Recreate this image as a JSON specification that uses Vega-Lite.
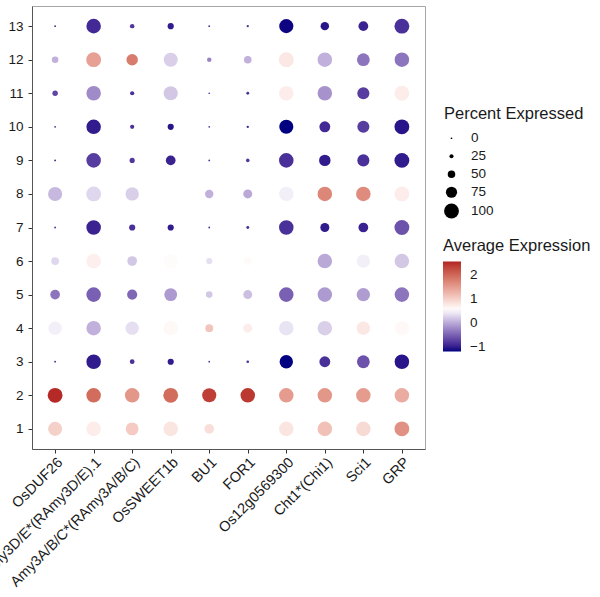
{
  "$schema": "https://vega.github.io/schema/vega-lite/v6.json",
  "autosize": "none",
  "width": 393,
  "height": 443,
  "padding": {"left": 32, "top": 6, "right": 175, "bottom": 148},
  "background": "white",
  "config": {
    "font": "Liberation Sans",
    "view": {"stroke": "#a6a6a6", "strokeWidth": 1}
  },
  "datasets": {
    "dots": [
      {"gene":"OsDUF26","cluster":13,"pct":2,"avg":-0.95},
      {"gene":"Amy3D/E*(RAmy3D/E).1","cluster":13,"pct":98,"avg":-0.9},
      {"gene":"Amy3A/B/C*(RAmy3A/B/C)","cluster":13,"pct":28,"avg":-0.8},
      {"gene":"OsSWEET1b","cluster":13,"pct":40,"avg":-1.0},
      {"gene":"BU1","cluster":13,"pct":1,"avg":-0.9},
      {"gene":"FOR1","cluster":13,"pct":10,"avg":-0.85},
      {"gene":"Os12g0569300","cluster":13,"pct":95,"avg":-1.15},
      {"gene":"Cht1*(Chi1)","cluster":13,"pct":56,"avg":-1.05},
      {"gene":"Sci1","cluster":13,"pct":65,"avg":-0.95},
      {"gene":"GRP","cluster":13,"pct":100,"avg":-0.85},

      {"gene":"OsDUF26","cluster":12,"pct":43,"avg":0.05},
      {"gene":"Amy3D/E*(RAmy3D/E).1","cluster":12,"pct":100,"avg":1.45},
      {"gene":"Amy3A/B/C*(RAmy3A/B/C)","cluster":12,"pct":77,"avg":1.8},
      {"gene":"OsSWEET1b","cluster":12,"pct":95,"avg":0.25},
      {"gene":"BU1","cluster":12,"pct":28,"avg":-0.25},
      {"gene":"FOR1","cluster":12,"pct":50,"avg":0.05},
      {"gene":"Os12g0569300","cluster":12,"pct":100,"avg":0.78},
      {"gene":"Cht1*(Chi1)","cluster":12,"pct":98,"avg":0.05},
      {"gene":"Sci1","cluster":12,"pct":86,"avg":-0.35},
      {"gene":"GRP","cluster":12,"pct":98,"avg":-0.35},

      {"gene":"OsDUF26","cluster":11,"pct":35,"avg":-0.7},
      {"gene":"Amy3D/E*(RAmy3D/E).1","cluster":11,"pct":98,"avg":-0.2},
      {"gene":"Amy3A/B/C*(RAmy3A/B/C)","cluster":11,"pct":26,"avg":-0.85},
      {"gene":"OsSWEET1b","cluster":11,"pct":95,"avg":0.2},
      {"gene":"BU1","cluster":11,"pct":0,"avg":-0.7},
      {"gene":"FOR1","cluster":11,"pct":16,"avg":-0.8},
      {"gene":"Os12g0569300","cluster":11,"pct":98,"avg":0.72},
      {"gene":"Cht1*(Chi1)","cluster":11,"pct":98,"avg":-0.15},
      {"gene":"Sci1","cluster":11,"pct":81,"avg":-0.75},
      {"gene":"GRP","cluster":11,"pct":100,"avg":0.72},

      {"gene":"OsDUF26","cluster":10,"pct":2,"avg":-0.9},
      {"gene":"Amy3D/E*(RAmy3D/E).1","cluster":10,"pct":98,"avg":-1.0},
      {"gene":"Amy3A/B/C*(RAmy3A/B/C)","cluster":10,"pct":26,"avg":-0.85},
      {"gene":"OsSWEET1b","cluster":10,"pct":40,"avg":-1.05},
      {"gene":"BU1","cluster":10,"pct":1,"avg":-0.8},
      {"gene":"FOR1","cluster":10,"pct":11,"avg":-0.9},
      {"gene":"Os12g0569300","cluster":10,"pct":95,"avg":-1.18},
      {"gene":"Cht1*(Chi1)","cluster":10,"pct":73,"avg":-0.9},
      {"gene":"Sci1","cluster":10,"pct":81,"avg":-0.75},
      {"gene":"GRP","cluster":10,"pct":100,"avg":-1.05},

      {"gene":"OsDUF26","cluster":9,"pct":6,"avg":-0.85},
      {"gene":"Amy3D/E*(RAmy3D/E).1","cluster":9,"pct":98,"avg":-0.75},
      {"gene":"Amy3A/B/C*(RAmy3A/B/C)","cluster":9,"pct":33,"avg":-0.8},
      {"gene":"OsSWEET1b","cluster":9,"pct":65,"avg":-0.95},
      {"gene":"BU1","cluster":9,"pct":2,"avg":-0.85},
      {"gene":"FOR1","cluster":9,"pct":21,"avg":-0.8},
      {"gene":"Os12g0569300","cluster":9,"pct":98,"avg":-0.85},
      {"gene":"Cht1*(Chi1)","cluster":9,"pct":77,"avg":-1.0},
      {"gene":"Sci1","cluster":9,"pct":81,"avg":-0.85},
      {"gene":"GRP","cluster":9,"pct":100,"avg":-1.0},

      {"gene":"OsDUF26","cluster":8,"pct":95,"avg":0.1},
      {"gene":"Amy3D/E*(RAmy3D/E).1","cluster":8,"pct":100,"avg":0.3},
      {"gene":"Amy3A/B/C*(RAmy3A/B/C)","cluster":8,"pct":90,"avg":0.25},
      {"gene":"OsSWEET1b","cluster":8,"pct":95,"avg":0.55},
      {"gene":"BU1","cluster":8,"pct":56,"avg":0.05},
      {"gene":"FOR1","cluster":8,"pct":60,"avg":0.0},
      {"gene":"Os12g0569300","cluster":8,"pct":98,"avg":0.45},
      {"gene":"Cht1*(Chi1)","cluster":8,"pct":98,"avg":1.7},
      {"gene":"Sci1","cluster":8,"pct":98,"avg":1.65},
      {"gene":"GRP","cluster":8,"pct":100,"avg":0.72},

      {"gene":"OsDUF26","cluster":7,"pct":3,"avg":-0.85},
      {"gene":"Amy3D/E*(RAmy3D/E).1","cluster":7,"pct":98,"avg":-0.95},
      {"gene":"Amy3A/B/C*(RAmy3A/B/C)","cluster":7,"pct":40,"avg":-0.85},
      {"gene":"OsSWEET1b","cluster":7,"pct":40,"avg":-1.0},
      {"gene":"BU1","cluster":7,"pct":2,"avg":-0.85},
      {"gene":"FOR1","cluster":7,"pct":16,"avg":-0.85},
      {"gene":"Os12g0569300","cluster":7,"pct":98,"avg":-0.85},
      {"gene":"Cht1*(Chi1)","cluster":7,"pct":60,"avg":-1.0},
      {"gene":"Sci1","cluster":7,"pct":65,"avg":-0.95},
      {"gene":"GRP","cluster":7,"pct":100,"avg":-0.6},

      {"gene":"OsDUF26","cluster":6,"pct":52,"avg":0.3},
      {"gene":"Amy3D/E*(RAmy3D/E).1","cluster":6,"pct":98,"avg":0.7},
      {"gene":"Amy3A/B/C*(RAmy3A/B/C)","cluster":6,"pct":65,"avg":0.2},
      {"gene":"OsSWEET1b","cluster":6,"pct":98,"avg":0.58},
      {"gene":"BU1","cluster":6,"pct":40,"avg":0.35},
      {"gene":"FOR1","cluster":6,"pct":52,"avg":0.6},
      {"gene":"Os12g0569300","cluster":6,"pct":95,"avg":0.55},
      {"gene":"Cht1*(Chi1)","cluster":6,"pct":98,"avg":0.0},
      {"gene":"Sci1","cluster":6,"pct":90,"avg":0.45},
      {"gene":"GRP","cluster":6,"pct":98,"avg":0.2},

      {"gene":"OsDUF26","cluster":5,"pct":65,"avg":-0.35},
      {"gene":"Amy3D/E*(RAmy3D/E).1","cluster":5,"pct":98,"avg":-0.5},
      {"gene":"Amy3A/B/C*(RAmy3A/B/C)","cluster":5,"pct":68,"avg":-0.45},
      {"gene":"OsSWEET1b","cluster":5,"pct":86,"avg":-0.1},
      {"gene":"BU1","cluster":5,"pct":43,"avg":0.2},
      {"gene":"FOR1","cluster":5,"pct":60,"avg":0.15},
      {"gene":"Os12g0569300","cluster":5,"pct":98,"avg":-0.5},
      {"gene":"Cht1*(Chi1)","cluster":5,"pct":98,"avg":-0.1},
      {"gene":"Sci1","cluster":5,"pct":90,"avg":-0.08},
      {"gene":"GRP","cluster":5,"pct":98,"avg":-0.35},

      {"gene":"OsDUF26","cluster":4,"pct":90,"avg":0.45},
      {"gene":"Amy3D/E*(RAmy3D/E).1","cluster":4,"pct":98,"avg":0.05},
      {"gene":"Amy3A/B/C*(RAmy3A/B/C)","cluster":4,"pct":90,"avg":0.35},
      {"gene":"OsSWEET1b","cluster":4,"pct":98,"avg":0.62},
      {"gene":"BU1","cluster":4,"pct":52,"avg":1.1},
      {"gene":"FOR1","cluster":4,"pct":60,"avg":0.72},
      {"gene":"Os12g0569300","cluster":4,"pct":98,"avg":0.38},
      {"gene":"Cht1*(Chi1)","cluster":4,"pct":98,"avg":0.25},
      {"gene":"Sci1","cluster":4,"pct":90,"avg":0.78},
      {"gene":"GRP","cluster":4,"pct":98,"avg":0.62},

      {"gene":"OsDUF26","cluster":3,"pct":2,"avg":-0.95},
      {"gene":"Amy3D/E*(RAmy3D/E).1","cluster":3,"pct":98,"avg":-1.0},
      {"gene":"Amy3A/B/C*(RAmy3A/B/C)","cluster":3,"pct":30,"avg":-0.85},
      {"gene":"OsSWEET1b","cluster":3,"pct":40,"avg":-1.0},
      {"gene":"BU1","cluster":3,"pct":1,"avg":-0.85},
      {"gene":"FOR1","cluster":3,"pct":14,"avg":-0.85},
      {"gene":"Os12g0569300","cluster":3,"pct":90,"avg":-1.18},
      {"gene":"Cht1*(Chi1)","cluster":3,"pct":73,"avg":-0.85},
      {"gene":"Sci1","cluster":3,"pct":86,"avg":-0.6},
      {"gene":"GRP","cluster":3,"pct":98,"avg":-1.05},

      {"gene":"OsDUF26","cluster":2,"pct":100,"avg":2.5},
      {"gene":"Amy3D/E*(RAmy3D/E).1","cluster":2,"pct":98,"avg":1.95},
      {"gene":"Amy3A/B/C*(RAmy3A/B/C)","cluster":2,"pct":98,"avg":1.55},
      {"gene":"OsSWEET1b","cluster":2,"pct":100,"avg":1.95},
      {"gene":"BU1","cluster":2,"pct":95,"avg":2.35},
      {"gene":"FOR1","cluster":2,"pct":98,"avg":2.4},
      {"gene":"Os12g0569300","cluster":2,"pct":98,"avg":1.5},
      {"gene":"Cht1*(Chi1)","cluster":2,"pct":98,"avg":1.55},
      {"gene":"Sci1","cluster":2,"pct":98,"avg":1.5},
      {"gene":"GRP","cluster":2,"pct":98,"avg":1.35},

      {"gene":"OsDUF26","cluster":1,"pct":95,"avg":1.0},
      {"gene":"Amy3D/E*(RAmy3D/E).1","cluster":1,"pct":98,"avg":0.72},
      {"gene":"Amy3A/B/C*(RAmy3A/B/C)","cluster":1,"pct":86,"avg":1.05},
      {"gene":"OsSWEET1b","cluster":1,"pct":98,"avg":0.8},
      {"gene":"BU1","cluster":1,"pct":65,"avg":0.85},
      {"gene":"FOR1","cluster":1,"pct":80,"avg":0.55},
      {"gene":"Os12g0569300","cluster":1,"pct":98,"avg":0.8},
      {"gene":"Cht1*(Chi1)","cluster":1,"pct":98,"avg":1.15},
      {"gene":"Sci1","cluster":1,"pct":98,"avg":0.9},
      {"gene":"GRP","cluster":1,"pct":100,"avg":1.6}
    ]
  },
  "data": {"name": "dots"},
  "mark": {"type": "point", "shape": "circle", "filled": true, "opacity": 1, "strokeWidth": 0},
  "encoding": {
    "x": {
      "field": "gene", "type": "nominal",
      "sort": ["OsDUF26","Amy3D/E*(RAmy3D/E).1","Amy3A/B/C*(RAmy3A/B/C)","OsSWEET1b","BU1","FOR1","Os12g0569300","Cht1*(Chi1)","Sci1","GRP"],
      "scale": {"type": "point", "padding": 0.6},
      "axis": {
        "title": null, "grid": false,
        "labelAngle": -45, "labelAlign": "right", "labelBaseline": "top",
        "labelFontSize": 14.5, "labelColor": "#1a1a1a", "labelPadding": 2,
        "tickSize": 4, "tickColor": "#333333", "domainColor": "#555555"
      }
    },
    "y": {
      "field": "cluster", "type": "ordinal",
      "sort": [13,12,11,10,9,8,7,6,5,4,3,2,1],
      "scale": {"type": "point", "padding": 0.6},
      "axis": {
        "title": null, "grid": false,
        "labelFontSize": 13.5, "labelColor": "#1a1a1a", "labelPadding": 5,
        "tickSize": 4, "tickColor": "#333333", "domainColor": "#555555"
      }
    },
    "size": {
      "field": "pct", "type": "quantitative",
      "scale": {"type": "pow", "exponent": 2, "domain": [0, 100], "range": [3, 220]},
      "legend": {
        "title": "Percent Expressed", "orient": "none", "legendX": 412, "legendY": 100,
        "values": [0, 25, 50, 75, 100], "gridAlign": "all",
        "symbolFillColor": "black", "symbolStrokeWidth": 0, "symbolType": "circle",
        "titleFontSize": 16.5, "titleFontWeight": "normal", "titleColor": "#1a1a1a", "titlePadding": 9,
        "labelFontSize": 13.5, "labelColor": "#1a1a1a", "labelOffset": 12, "rowPadding": 2,
        "encode": {"symbols": {"update": {"fill": {"value": "black"}, "opacity": {"value": 1}}}}
      }
    },
    "color": {
      "field": "avg", "type": "quantitative",
      "scale": {"domain": [-1.18, 0.55, 2.55], "range": ["#000080", "#ffffff", "#b22222"], "interpolate": "lab"},
      "legend": {
        "title": "Average Expression", "orient": "none", "legendX": 411, "legendY": 232,
        "direction": "vertical", "gradientLength": 90, "gradientThickness": 18,
        "gradientStrokeWidth": 0, "values": [-1, 0, 1, 2],
        "titleFontSize": 16.5, "titleFontWeight": "normal", "titleColor": "#1a1a1a", "titlePadding": 7,
        "labelFontSize": 13.5, "labelColor": "#1a1a1a", "labelOffset": 9
      }
    }
  }
}
